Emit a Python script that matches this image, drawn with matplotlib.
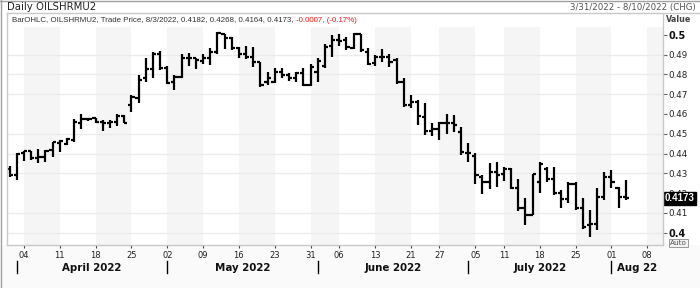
import matplotlib
matplotlib.use('Agg')
import matplotlib.pyplot as plt
import matplotlib.transforms as mtransforms
from matplotlib.lines import Line2D
from matplotlib.patches import Rectangle
import numpy as np
import pandas as pd

# trading days 3/31/2022 - 8/10/2022 (holidays dropped)
days = pd.bdate_range('2022-03-31', '2022-08-10')
days = days.drop(pd.to_datetime(['2022-05-30', '2022-06-20', '2022-07-04']))

opens = [0.4322, 0.4291, 0.4401, 0.4413, 0.4376, 0.4384, 0.4418, 0.4451, 0.4446, 0.4468,
         0.4552, 0.4574, 0.4578, 0.4561, 0.4552, 0.4561, 0.4591, 0.4645, 0.4679, 0.4780,
         0.4827, 0.4901, 0.4830, 0.4763, 0.4788, 0.4884, 0.4881, 0.4867, 0.4884, 0.4911,
         0.5002, 0.4982, 0.4931, 0.4901, 0.4889, 0.4864, 0.4763, 0.4763, 0.4813, 0.4796,
         0.4780, 0.4805, 0.4746, 0.4813, 0.4843, 0.4945, 0.4973, 0.4973, 0.4935, 0.5002,
         0.4915, 0.4855, 0.4889, 0.4889, 0.4872, 0.4763, 0.4645, 0.4658, 0.4586, 0.4514,
         0.4524, 0.4552, 0.4552, 0.4510, 0.4401, 0.4389, 0.4283, 0.4258, 0.4308, 0.4296,
         0.4322, 0.4227, 0.4123, 0.4089, 0.4258, 0.4322, 0.4271, 0.4199, 0.4170, 0.4244,
         0.4123, 0.4039, 0.4042, 0.4182, 0.4283, 0.4224, 0.4182]
highs = [0.4339, 0.4401, 0.4413, 0.4413, 0.4423, 0.4420, 0.4456, 0.4468, 0.4476, 0.4574,
         0.4598, 0.4580, 0.4580, 0.4569, 0.4569, 0.4598, 0.4595, 0.4695, 0.4796, 0.4880,
         0.4914, 0.4918, 0.4840, 0.4796, 0.4901, 0.4909, 0.4884, 0.4901, 0.4935, 0.5015,
         0.5005, 0.4990, 0.4940, 0.4945, 0.4940, 0.4864, 0.4813, 0.4830, 0.4833, 0.4805,
         0.4813, 0.4830, 0.4850, 0.4881, 0.4951, 0.4998, 0.5002, 0.4990, 0.5007, 0.5002,
         0.4935, 0.4897, 0.4928, 0.4901, 0.4881, 0.4783, 0.4695, 0.4670, 0.4653, 0.4552,
         0.4561, 0.4598, 0.4595, 0.4535, 0.4451, 0.4401, 0.4291, 0.4350, 0.4355, 0.4334,
         0.4325, 0.4271, 0.4174, 0.4295, 0.4355, 0.4334, 0.4334, 0.4216, 0.4258, 0.4258,
         0.4174, 0.4115, 0.4227, 0.4308, 0.4317, 0.4233, 0.4268]
lows = [0.4280, 0.4266, 0.4362, 0.4367, 0.4354, 0.4359, 0.4384, 0.4406, 0.4443, 0.4456,
        0.4524, 0.4565, 0.4555, 0.4514, 0.4530, 0.4541, 0.4552, 0.4608, 0.4653, 0.4763,
        0.4783, 0.4822, 0.4749, 0.4721, 0.4780, 0.4840, 0.4827, 0.4850, 0.4847, 0.4901,
        0.4928, 0.4923, 0.4881, 0.4877, 0.4839, 0.4738, 0.4746, 0.4754, 0.4780, 0.4766,
        0.4763, 0.4741, 0.4743, 0.4759, 0.4833, 0.4889, 0.4945, 0.4923, 0.4928, 0.4914,
        0.4847, 0.4843, 0.4864, 0.4839, 0.4749, 0.4637, 0.4628, 0.4544, 0.4493, 0.4490,
        0.4468, 0.4497, 0.4507, 0.4392, 0.4359, 0.4244, 0.4194, 0.4221, 0.4233, 0.4261,
        0.4221, 0.4110, 0.4039, 0.4089, 0.4199, 0.4258, 0.4191, 0.4123, 0.4148, 0.4115,
        0.4019, 0.3980, 0.4014, 0.4165, 0.4224, 0.4127, 0.4164]
closes = [0.4291, 0.4396, 0.4413, 0.4376, 0.4381, 0.4415, 0.4456, 0.4463, 0.4473, 0.4561,
          0.4574, 0.4574, 0.4560, 0.4552, 0.4561, 0.4591, 0.4555, 0.4687, 0.4771, 0.4827,
          0.4901, 0.4830, 0.4755, 0.4788, 0.4884, 0.4880, 0.4872, 0.4884, 0.4911, 0.5007,
          0.4982, 0.4931, 0.4901, 0.4889, 0.4864, 0.4746, 0.4780, 0.4813, 0.4796, 0.4780,
          0.4805, 0.4746, 0.4838, 0.4867, 0.4940, 0.4973, 0.4970, 0.4940, 0.5002, 0.4923,
          0.4850, 0.4889, 0.4889, 0.4864, 0.4763, 0.4645, 0.4658, 0.4591, 0.4514, 0.4524,
          0.4552, 0.4552, 0.4544, 0.4409, 0.4401, 0.4291, 0.4258, 0.4308, 0.4291, 0.4322,
          0.4227, 0.4123, 0.4089, 0.4295, 0.4345, 0.4271, 0.4199, 0.4170, 0.4244, 0.4123,
          0.4031, 0.4042, 0.4182, 0.4283, 0.4258, 0.4180, 0.4173]

y_ticks = [0.40, 0.41, 0.42, 0.43, 0.44, 0.45, 0.46, 0.47, 0.48, 0.49, 0.50]
y_labels = ['0.4', '0.41', '0.42', '0.43', '0.44', '0.45', '0.46', '0.47', '0.48', '0.49', '0.5']
grid_vals = [0.40, 0.41, 0.43, 0.44, 0.45, 0.47, 0.48, 0.49]
months = ['April 2022', 'May 2022', 'June 2022', 'July 2022', 'Aug 22']
last_price = '0.4173'

W, H = 700, 288
fx = lambda px: px / W
fy = lambda py: 1 - py / H

idx = np.arange(len(opens))
day_list = list(days)

# week starts (first trading day of each week) and month starts
wk = pd.Series(range(len(day_list)), index=days)
week_starts = [g.iloc[0] for _, g in wk.groupby(days.to_period('W'))]
month_starts = [g.iloc[0] for _, g in wk.groupby(days.to_period('M'))]
week_starts = week_starts[1:]   # first label is 04
month_starts = month_starts[1:]  # Apr 1, May 2, ...

fig = plt.figure(figsize=(7, 2.88), dpi=100)
fig.patch.set_facecolor('white')
fig.add_artist(Rectangle((0, 0), 1, fy(245), transform=fig.transFigure,
                         facecolor='#fafafa', edgecolor='none', zorder=0))

ax = fig.add_axes([fx(7), fy(245), fx(663) - fx(7), fy(27) - fy(245)])
ax.set_facecolor('white')
ax.set_xlim(-0.37, 91.2)
ax.set_ylim(0.39379, 0.50389)

# alternating weekly bands
for k in range(0, len(week_starts), 2):
    x0 = week_starts[k]
    x1 = week_starts[k + 1] if k + 1 < len(week_starts) else 95
    ax.axvspan(x0, x1, color='#f5f5f5', lw=0, zorder=0)
for g in grid_vals:
    ax.axhline(g, color='#ebebeb', lw=1, zorder=1)

# OHLC bars
ax.vlines(idx, lows, highs, color='black', lw=1.6, zorder=3)
ax.hlines(opens, idx - 0.45, idx, color='black', lw=1.6, zorder=3)
ax.hlines(closes, idx, idx + 0.45, color='black', lw=1.6, zorder=3)

for s in ax.spines.values():
    s.set_visible(False)

ax.yaxis.tick_right()
ax.set_yticks(y_ticks, y_labels)
ax.tick_params(axis='y', length=3, width=0.8, color='#666', labelsize=6.3,
               labelcolor='#222', pad=1)
for t in ax.get_yticklabels():
    if t.get_text() in ('0.4', '0.5'):
        t.set_fontweight('bold')
        t.set_fontsize(7)
        t.set_color('#111')

ax.set_xticks(week_starts, [day_list[i].strftime('%d') for i in week_starts])
ax.tick_params(axis='x', length=2, width=0.8, color='#444', labelsize=6,
               labelcolor='#222', pad=2)

# month labels and separators
tr = mtransforms.blended_transform_factory(ax.transData, fig.transFigure)
edges = month_starts + [91.2]
for m, a, b in zip(months, edges[:-1], edges[1:]):
    ax.text((a + b) / 2, fy(268), m, transform=tr, ha='center', va='center',
            fontsize=7.4, fontweight='bold', color='#111')
for a in month_starts:
    ax.add_line(Line2D([a, a], [fy(261), fy(273)], transform=tr, color='black',
                       lw=1, clip_on=False))

# last price marker
ty = mtransforms.blended_transform_factory(ax.transAxes, ax.transData)
ax.text(1.003, closes[-1], last_price, transform=ty, ha='left', va='center',
        fontsize=7, fontweight='bold', color='white', zorder=5, family='Liberation Sans',
        bbox=dict(boxstyle='square,pad=0.15', facecolor='black', edgecolor='black'))

# frame lines
frame = '#c8c8c8'
fig.add_artist(Line2D([fx(0), fx(700)], [fy(1), fy(1)], color='#a0a0a0', lw=1))
fig.add_artist(Line2D([fx(0.7), fx(0.7)], [fy(0), fy(288)], color='#a0a0a0', lw=1))
fig.add_artist(Line2D([fx(7), fx(700)], [fy(13), fy(13)], color=frame, lw=1))
fig.add_artist(Line2D([fx(7), fx(7)], [fy(13), fy(245)], color=frame, lw=1))
fig.add_artist(Line2D([fx(663), fx(663)], [fy(13), fy(245)], color=frame, lw=1))
fig.add_artist(Line2D([fx(7), fx(663)], [fy(245), fy(245)], color=frame, lw=1))

# texts
fig.text(fx(7), fy(7.5), 'Daily OILSHRMU2', fontsize=7.3, color='#222', va='center')
fig.text(fx(696), fy(7.5), '3/31/2022 - 8/10/2022 (CHG)', fontsize=6.2, color='#555',
         ha='right', va='center')
fig.text(fx(679), fy(20), 'Value', fontsize=5.8, fontweight='bold', color='#444',
         ha='center', va='center')
fig.text(fx(678.5), fy(243), 'Auto', fontsize=5.2, color='#555', ha='center', va='center',
         bbox=dict(boxstyle='square,pad=0.1', facecolor='#f2f2f2', edgecolor='#999', lw=0.7))

leg = fig.text(fx(12), fy(20),
               'BarOHLC, OILSHRMU2, Trade Price, 8/3/2022, 0.4182, 0.4268, 0.4164, 0.4173, ',
               fontsize=5.7, color='#333', va='center', family='Liberation Sans')
r = fig.canvas.get_renderer()
bb = leg.get_window_extent(renderer=r)
fig.text(bb.x1 / W, fy(20), '-0.0007, (-0.17%)', fontsize=5.7, color='#e02020', va='center',
         family='Liberation Sans')

fig.savefig('out.png', dpi=100)
